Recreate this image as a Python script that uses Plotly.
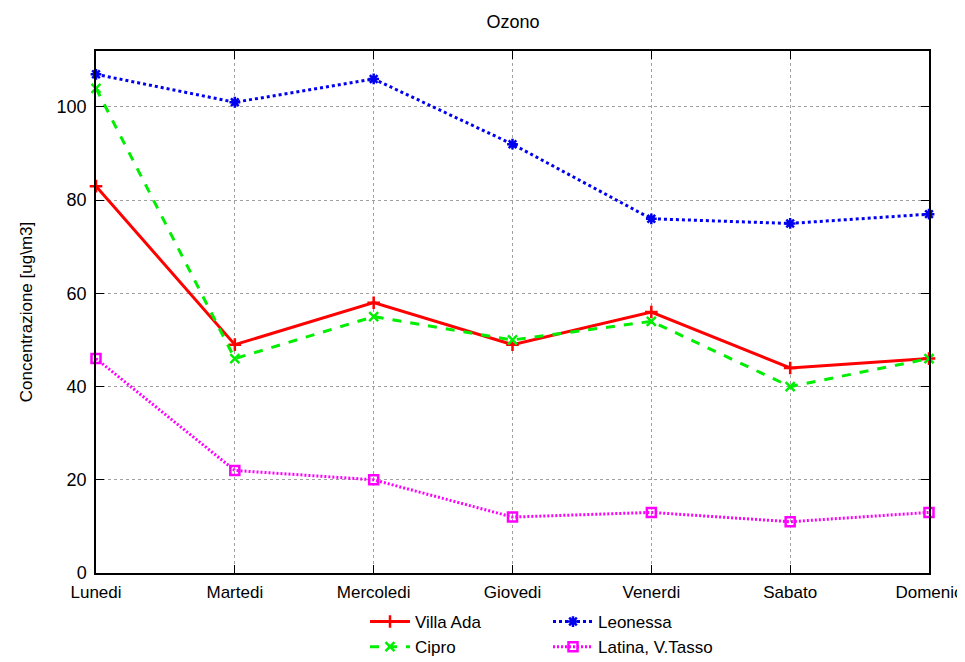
import plotly.graph_objects as go

days = ["Lunedi", "Martedi", "Mercoledi", "Giovedi", "Venerdi", "Sabato", "Domenic"]
villa_ada = [83, 49, 58, 49, 56, 44, 46]
cipro = [104, 46, 55, 50, 54, 40, 46]
leonessa = [107, 101, 106, 92, 76, 75, 77]
latina = [46, 22, 20, 12, 13, 11, 13]

FONT = "Liberation Sans, Arial, sans-serif"
# the page body has an 8px margin, so the figure is a bit smaller than the window
W, H = 957, 654
L, R, T, B = 88, 36, 43, 89
PW, PH = W - L - R, H - T - B

series = [
    ("Villa Ada", villa_ada, "#ff0000", "solid", "cross-thin", "legend"),
    ("Cipro", cipro, "#00ee00", "dash", "x-thin", "legend"),
    ("Leonessa", leonessa, "#0000ee", "dot", "asterisk-open", "legend2"),
    ("Latina, V.Tasso", latina, "#ff00ff", "2px,2px", "square-open", "legend2"),
]

fig = go.Figure()
for name, vals, color, dash, sym, leg in series:
    fig.add_trace(go.Scatter(
        x=list(range(len(days))), y=vals, name=name, mode="lines+markers",
        line=dict(color=color, width=3, dash=dash),
        marker=dict(symbol=sym, size=9, color=color, line=dict(color=color, width=2.5)),
        cliponaxis=False, legend=leg,
    ))

legend_style = dict(xanchor="left", yanchor="top",
                    bgcolor="rgba(0,0,0,0)", tracegroupgap=0, itemwidth=40,
                    font=dict(family=FONT, size=17))
leg_y = (H - B - 596) / PH

fig.update_layout(
    width=W, height=H,
    paper_bgcolor="white", plot_bgcolor="white",
    font=dict(family=FONT, size=18, color="black"),
    title=dict(text="Ozono", x=505 / W, xanchor="center", y=1 - 14 / H, yanchor="middle",
               font=dict(family=FONT, size=18)),
    margin=dict(l=L, r=R, t=T, b=B, autoexpand=False),
    legend=dict(x=(357 - L) / PW, y=leg_y, **legend_style),
    legend2=dict(x=(540 - L) / PW, y=leg_y, **legend_style),
)
fig.update_xaxes(
    range=[0, 6], tickvals=list(range(len(days))), ticktext=days,
    tickfont=dict(family=FONT, size=17), ticklabelstandoff=3, automargin=False,
    showgrid=True, gridcolor="#a0a0a0", griddash="dot", gridwidth=1,
    showline=True, linecolor="black", linewidth=1.5, mirror="ticks",
    ticks="inside", ticklen=8, tickcolor="black", zeroline=False,
)
fig.update_yaxes(
    range=[0, 112], dtick=20, automargin=False,
    tickfont=dict(family=FONT, size=18), ticklabelstandoff=4,
    title=dict(text="Concentrazione [ug\\m3]", standoff=20, font=dict(family=FONT, size=17)),
    showgrid=True, gridcolor="#a0a0a0", griddash="dot", gridwidth=1,
    showline=True, linecolor="black", linewidth=1.5, mirror="ticks",
    ticks="inside", ticklen=8, tickcolor="black", zeroline=False,
)

fig.write_html("out.html")
